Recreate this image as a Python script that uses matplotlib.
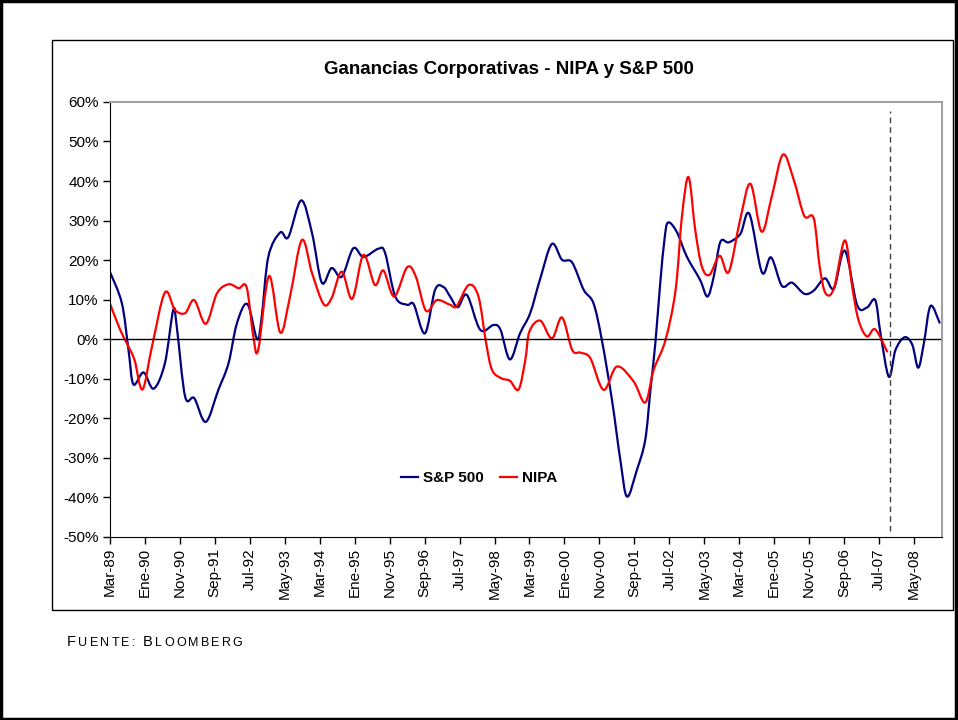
import numpy as np
import matplotlib.pyplot as plt
from matplotlib.patches import Rectangle, PathPatch
from matplotlib.path import Path
from matplotlib.lines import Line2D

plt.rcParams['font.family'] = ['Liberation Sans', 'DejaVu Sans']

# meses desde Mar-89 (lectura del grafico) y variacion anual en %
sp_mes = [0, 3.4, 5.3, 6.7, 9.6, 12.5, 15.7, 18.1, 19.1, 21.5, 24.1, 27.4, 31.0, 33.9, 36.3, 39.3,
          42.1, 43.4, 45.3, 48.7, 51.0, 54.7, 57.8, 60.6, 63.4, 66.3, 69.6, 72.5, 76.8, 78.7, 81.6,
          85.0, 86.9, 90.1, 93.0, 95.4, 97.3, 99.5, 102.1, 105.9, 109.7, 111.7, 114.4, 117.3, 120.2,
          123.1, 126.4, 129.3, 132.2, 135.5, 138.3, 140.7, 143.6, 146.0, 147.9, 150.7, 153.1, 154.6,
          156.0, 157.4, 158.6, 159.6, 162.1, 165.0, 168.8, 170.9, 172.7, 174.6, 177.0, 180.3, 182.9,
          186.5, 189.1, 192.2, 195.1, 198.6, 201.3, 204.5, 207.1, 210.2, 213.7, 216.5, 218.9, 220.4,
          222.8, 224.7, 227.3, 229.5, 231.2, 232.8, 234.7, 237.3]
sp500 = [17.0, 9.1, -2.7, -11.4, -8.4, -12.5, -6.1, 7.4, 3.2, -14.5, -14.9, -20.9, -12.8, -6.1, 4.0,
         8.9, 0.0, 5.7, 20.9, 27.0, 25.8, 35.1, 26.8, 14.3, 18.0, 15.8, 23.0, 20.8, 22.9, 21.8, 10.8,
         8.7, 8.8, 1.5, 12.5, 13.2, 10.8, 8.1, 11.2, 2.4, 3.6, 2.4, -5.1, 1.5, 6.6, 15.4, 24.1, 20.1,
         19.4, 12.5, 9.1, -0.2, -15.4, -30.6, -39.8, -33.1, -25.5, -12.8, -1.0, 14.2, 25.1, 29.5,
         27.2, 20.9, 15.0, 10.8, 15.8, 24.6, 24.5, 26.6, 31.7, 16.9, 20.7, 13.5, 14.3, 11.5, 12.3,
         15.4, 12.9, 22.4, 8.7, 8.0, 9.9, 1.5, -9.5, -2.7, 0.5, -1.4, -7.2, -1.1, 8.4, 4.2]

nipa_mes = [0, 2.9, 4.8, 7.0, 9.3, 12.0, 15.7, 18.6, 21.5, 24.1, 27.4, 30.6, 33.9, 36.8, 39.1, 41.0,
            42.4, 45.5, 48.7, 51.5, 54.9, 57.8, 61.1, 63.4, 66.3, 69.3, 72.5, 75.8, 78.2, 81.3, 85.0,
            87.5, 90.4, 93.5, 97.3, 99.2, 102.6, 105.4, 107.6, 109.3, 112.0, 114.4, 116.9, 118.8,
            120.0, 123.1, 126.4, 129.3, 132.2, 134.6, 137.4, 141.2, 145.0, 149.8, 153.1, 155.5,
            158.9, 161.8, 163.6, 165.5, 167.4, 169.3, 171.5, 174.4, 177.0, 180.3, 183.2, 186.4,
            189.3, 192.5, 195.6, 198.6, 201.3, 203.0, 204.7, 207.1, 210.2, 212.3, 214.1, 216.5,
            218.9, 222.3]
nipa = [9.0, 2.4, -1.0, -5.2, -12.7, -1.9, 11.8, 7.4, 6.6, 9.9, 3.9, 11.6, 13.9, 12.9, 13.1, 0.7,
        -2.7, 16.0, 1.7, 10.8, 25.1, 16.7, 8.9, 10.4, 17.1, 10.2, 21.3, 13.7, 17.4, 10.8, 18.2, 15.8,
        7.2, 9.9, 8.7, 8.4, 13.7, 10.8, -1.0, -7.8, -9.9, -10.5, -12.7, -5.2, 2.0, 4.7, 0.2, 5.5,
        -2.7, -3.4, -4.8, -12.8, -6.9, -10.7, -16.0, -7.8, -0.2, 12.5, 31.0, 41.0, 27.7, 18.4, 16.3,
        21.1, 17.0, 30.4, 39.3, 27.2, 36.1, 46.7, 40.3, 31.2, 30.6, 18.4, 11.6, 12.9, 25.0, 13.3,
        4.9, 0.7, 2.5, -3.1]

etiquetas = ['Mar-89', 'Ene-90', 'Nov-90', 'Sep-91', 'Jul-92', 'May-93', 'Mar-94', 'Ene-95',
             'Nov-95', 'Sep-96', 'Jul-97', 'May-98', 'Mar-99', 'Ene-00', 'Nov-00', 'Sep-01',
             'Jul-02', 'May-03', 'Mar-04', 'Ene-05', 'Nov-05', 'Sep-06', 'Jul-07', 'May-08']
corte = 223.2  # linea punteada (Nov-07)


def linea_suave(ax, xs, ys, color):
    # linea suavizada tipo Excel: curvas de Bezier que pasan por cada punto
    p = np.column_stack([xs, ys])
    ext = np.vstack([p[0], p, p[-1]])
    verts = [p[0]]
    for i in range(len(p) - 1):
        a, b, c, d = ext[i], ext[i + 1], ext[i + 2], ext[i + 3]
        verts += [b + (c - a) / 6, c - (d - b) / 6, c]
    codes = [Path.MOVETO] + [Path.CURVE4] * (len(verts) - 1)
    ax.add_patch(PathPatch(Path(verts, codes), fill=False, ec=color, lw=1.6,
                           joinstyle='round', capstyle='round'))


fig = plt.figure(figsize=(9.58, 7.2), dpi=100)
fig.patches.append(Rectangle((0.001, 0.002), 0.997, 0.996, transform=fig.transFigure,
                             fill=False, lw=2.5, ec='black'))
fig.patches.append(Rectangle((0.0548, 0.1528), 0.9397, 0.7917, transform=fig.transFigure,
                             fill=False, lw=1, ec='black'))

ax = fig.add_axes([0.1148, 0.2542, 0.8685, 0.6042])
linea_suave(ax, sp_mes, sp500, '#000080')
linea_suave(ax, nipa_mes, nipa, '#ff0000')
ax.axhline(0, color='black', lw=1)
ax.vlines(corte, -48.6, 57.8, colors='#404040', linestyles=(0, (4, 3)), lw=1)

ax.set_xlim(0, 238)
ax.set_ylim(-50, 60)
ax.set_yticks(np.arange(-50, 61, 10))
ax.set_yticklabels([f'{v}%' for v in range(-50, 61, 10)], fontsize=11)
ax.set_xticks(np.arange(len(etiquetas)) * 10)
ax.set_xticklabels(etiquetas, rotation=90, fontsize=11)
ax.tick_params(direction='out', length=5, width=1, color='black', pad=3)
for s in ['left', 'bottom']:
    ax.spines[s].set_color('black')
for s in ['top', 'right']:
    ax.spines[s].set_color('#a0a0a0')
    ax.spines[s].set_linewidth(1.5)

handles = [Line2D([], [], color='#000080', lw=1.6), Line2D([], [], color='#ff0000', lw=1.6)]
ax.legend(handles, ['S&P 500', 'NIPA'], loc='center', bbox_to_anchor=(0.4435, 0.1356), ncol=2,
          frameon=False, prop={'weight': 'bold', 'size': 11}, handlelength=1.1,
          handletextpad=0.3, columnspacing=1.1)

fig.text(0.531, 0.903, 'Ganancias Corporativas - NIPA y S&P 500', ha='center', va='center',
         fontsize=13.5, fontweight='bold')

# Fuente en versalitas, letra por letra
fuente = 'Fuente: Bloomberg'
t = fig.text(0.070, 0.099, fuente[0], fontsize=10.5, va='bottom')
for ch in fuente[1:]:
    tam = 10.5 if ch.isupper() else 9
    t = ax.annotate(ch.upper() if ch != ' ' else '\u00a0', xy=(1, 0), xycoords=t,
                    xytext=(1.6, 0), textcoords='offset points', fontsize=tam,
                    va='bottom', annotation_clip=False)

fig.savefig('out.png', dpi=100)
